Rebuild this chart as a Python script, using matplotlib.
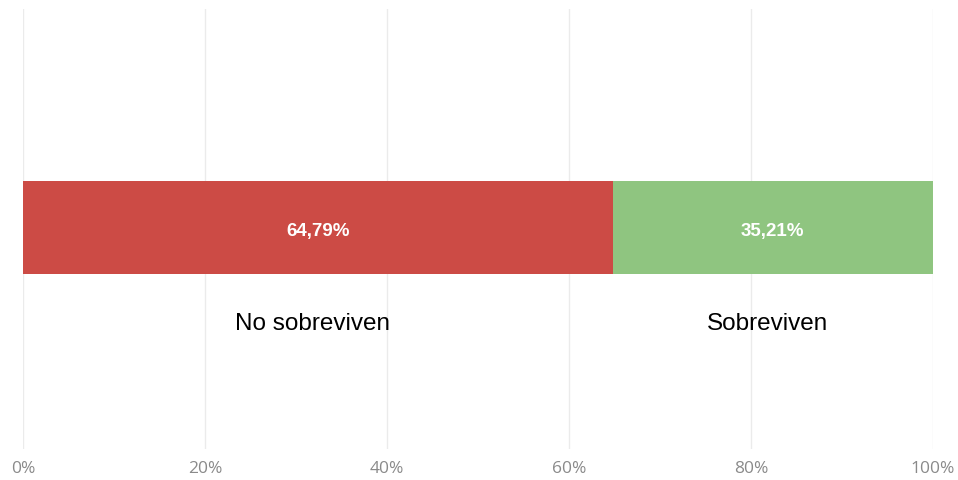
import matplotlib
matplotlib.use("Agg")
import matplotlib.pyplot as plt

categories = ["No sobreviven", "Sobreviven"]
shares = [64.79, 35.21]
value_labels = ["64,79%", "35,21%"]
colors = ["#CC4B45", "#8FC580"]
ticks = [0, 20, 40, 60, 80, 100]
tick_labels = ["0%", "20%", "40%", "60%", "80%", "100%"]

fig = plt.figure(figsize=(9.58, 4.81), dpi=100)
ax = fig.add_axes([23/958, 31/481, 910/958, 440/481])
ax.set_xlim(0, 100)
ax.set_ylim(0, 1)

left = 0
for cat, val, lab, col in zip(categories, shares, value_labels, colors):
    ax.barh(0.503, val, left=left, height=0.211, color=col, zorder=2)
    mid = left + val / 2
    ax.text(mid, 0.496, lab, ha="center", va="center", color="white",
            fontsize=13.5, fontweight="bold", family="Liberation Sans", zorder=3)
    ax.text(mid - 0.6, 0.286, cat, ha="center", va="center", color="black",
            fontsize=17.5, family="Liberation Sans")
    left += val

for t in ticks:
    ax.axvline(t, color="#EBEBEB", lw=1, zorder=1)

ax.set_xticks(ticks)
ax.set_xticklabels(tick_labels, family="Open Sans", fontsize=12.5, color="#8A8A8A")
ax.tick_params(axis="x", length=0, pad=8)
ax.set_yticks([])
for s in ax.spines.values():
    s.set_visible(False)

fig.savefig("out.png", dpi=100)
